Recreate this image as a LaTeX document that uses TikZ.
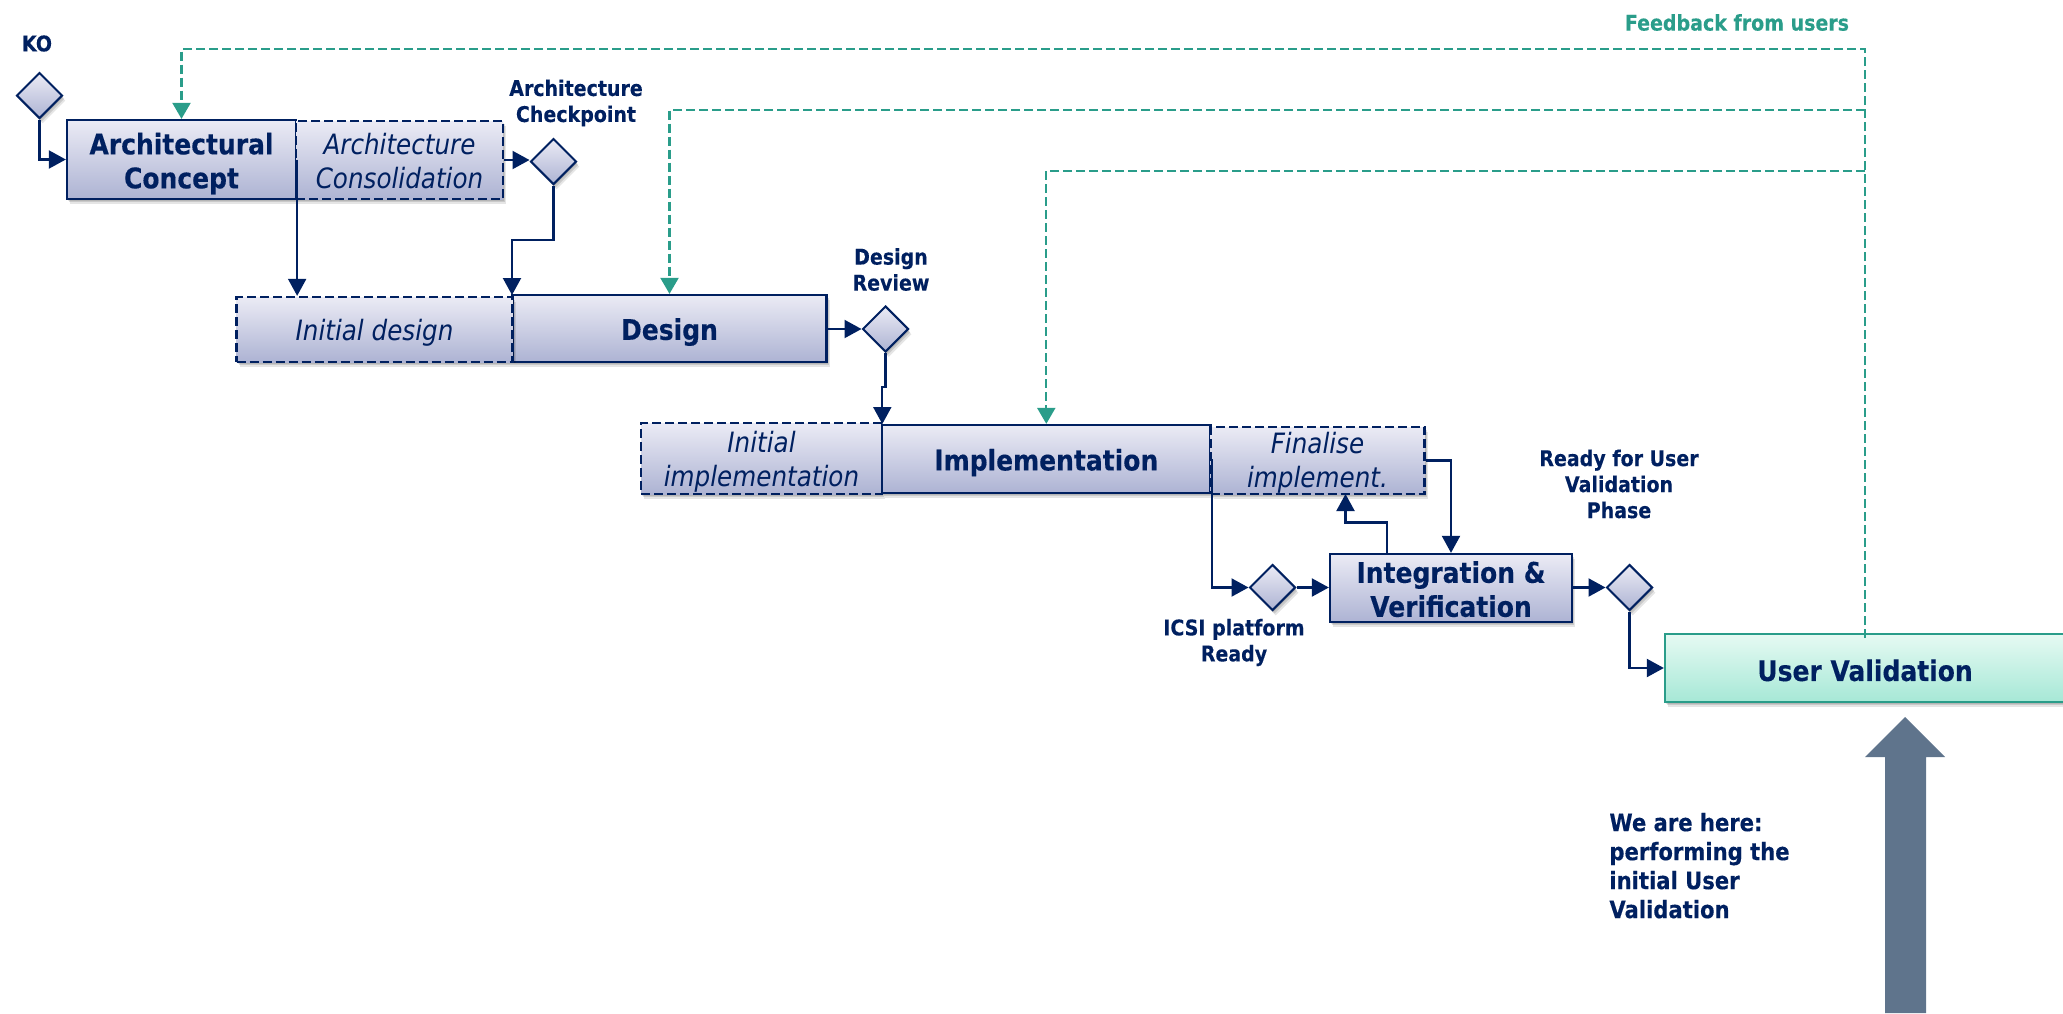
\documentclass[tikz,border=0pt]{standalone}
\usepackage{fontspec}
\setmainfont{DejaVu Sans}[FakeStretch=0.88,BoldFeatures={FakeBold=0.25}]
\usetikzlibrary{arrows.meta,shapes.geometric,shadows}
\definecolor{navy}{HTML}{002060}
\definecolor{teal}{HTML}{2A9D8A}
\definecolor{boxtop}{HTML}{EBEBF5}
\definecolor{boxbot}{HTML}{ADB3D3}
\definecolor{uvtop}{HTML}{E6FAF3}
\definecolor{uvbot}{HTML}{A6E8D6}
\definecolor{slate}{HTML}{5F748C}
\tikzset{
  softshadow/.style={
    general shadow={shadow xshift=.6pt,shadow yshift=-.9pt,fill=black,opacity=.10},
    general shadow={shadow xshift=1.1pt,shadow yshift=-1.7pt,fill=black,opacity=.12},
    general shadow={shadow xshift=1.6pt,shadow yshift=-2.6pt,fill=black,opacity=.10}},
  solidbox/.style={rectangle,draw=navy,line width=1.15pt,top color=boxtop,bottom color=boxbot,softshadow,inner sep=0pt},
  dashbox/.style={rectangle,draw=navy,line width=1.15pt,dash pattern=on 4.5pt off 2pt,top color=boxtop,bottom color=boxbot,softshadow,inner sep=0pt},
  uvbox/.style={rectangle,draw=teal,line width=1.15pt,top color=uvtop,bottom color=uvbot,softshadow,inner sep=0pt},
  boldtext/.style={text=navy,align=center,inner sep=0pt,font=\fontsize{14.2}{17}\selectfont\bfseries},
  italtext/.style={text=navy,align=center,inner sep=0pt,font=\fontsize{14}{17}\selectfont\itshape},
  gate/.style={diamond,aspect=1,draw=navy,line width=1pt,top color=boxtop,bottom color=boxbot,
    softshadow,minimum width=23pt,minimum height=23pt,inner sep=0pt},
  lab/.style={text=navy,align=center,inner sep=0pt,font=\fontsize{10.8}{13}\selectfont\bfseries},
  flow/.style={draw=navy,line width=1.05pt,-{Triangle[length=8.5pt,width=9pt]}},
  back/.style={draw=teal,line width=1.1pt,dash pattern=on 4.5pt off 2pt,-{Triangle[length=8pt,width=9pt]}},
}
\begin{document}
\begin{tikzpicture}[x=0.5pt,y=-0.5pt]
\useasboundingbox (0,0) rectangle (2063,1013);
% boxes
\node[solidbox,minimum width=114.5pt,minimum height=39.5pt] (ac) at (181.5,159.5) {};
\node[dashbox,minimum width=103.5pt,minimum height=39pt] (as) at (399.5,160) {};
\node[solidbox,minimum width=157pt,minimum height=33.5pt] (de) at (669.5,328.5) {};
\node[dashbox,minimum width=138pt,minimum height=32.5pt] (id) at (374.5,329.5) {};
\node[dashbox,minimum width=120.5pt,minimum height=35.5pt] (ii) at (761.5,458.5) {};
\node[solidbox,minimum width=164.3pt,minimum height=34pt] (im) at (1046.3,459) {};
\node[dashbox,minimum width=107pt,minimum height=33.5pt] (fi) at (1317.5,460.5) {};
\node[solidbox,minimum width=121pt,minimum height=34pt] (iv) at (1451,588) {};
\node[uvbox,minimum width=200pt,minimum height=34pt] (uv) at (1865,668) {};
% box texts
\node[boldtext] (tac) at ([yshift=-2pt]ac.center) {Architectural\\Concept};
\node[italtext] (tas) at ([yshift=-.6pt]as.center) {Architecture\\Consolidation};
\node[boldtext] (tde) at ([yshift=-1.8pt]de.center) {Design};
\node[italtext] (tid) at ([yshift=-1.8pt]id.center) {Initial design};
\node[italtext] (tii) at ([yshift=-1.6pt]ii.center) {Initial\\implementation};
\node[boldtext] (tim) at ([yshift=-1.8pt]im.center) {Implementation};
\node[italtext] (tfi) at ([yshift=-1.2pt]fi.center) {Finalise\\implement.};
\node[boldtext] (tiv) at ([yshift=-.6pt]iv.center) {Integration \&\\Verification};
\node[boldtext] (tuv) at ([yshift=-1.2pt]uv.center) {User Validation};
% gates
\node[gate] (ko) at (39.5,95.5) {};
\node[gate] (ck) at (553.5,161.5) {};
\node[gate] (dr) at (885.5,329) {};
\node[gate] (ic) at (1272.5,587.5) {};
\node[gate] (rd) at (1629.5,587.5) {};
% labels
\node[lab] (lko) at (37,43.5) {KO};
\node[lab] (lck) at (576,103) {Architecture\\Checkpoint};
\node[lab] (ldr) at (891,269.5) {Design\\Review};
\node[lab] (lrd) at (1619,484) {Ready for User\\Validation\\Phase};
\node[lab] (lic) at (1234,642.5) {ICSI platform\\Ready};
\node[lab,text=teal] (lfb) at (1737,22.5) {Feedback from users};
\node[text=navy,align=left,anchor=north west,inner sep=0pt,font=\fontsize{12}{14.5}\selectfont\bfseries] (we) at (1609,812.5) {We are here:\\performing the\\initial User\\Validation};
% flow connectors
\coordinate (a1) at (ko.south |- ac.west);
\draw[flow] (ko.south) -- (a1) -- (ac.west);
\draw[flow] (as.east) -- (as.east -| ck.west);
\coordinate (a2) at (ck.south |- 0,240);
\coordinate (a3) at (512,240);
\coordinate (a4) at (512,295);
\draw[flow] (ck.south) -- (a2) -- (a3) -- (a4);
\coordinate (a5) at (ac.east |- id.north);
\draw[flow] (ac.east) -- (a5);
\draw[flow] (de.east |- dr.west) -- (dr.west);
\coordinate (a6) at (885.5,387);
\coordinate (a7) at (882.3,387);
\coordinate (a8) at (882.3,424);
\draw[flow] (dr.south) -- (a6) -- (a7) -- (a8);
\coordinate (a9) at (im.east |- ic.west);
\draw[flow] (im.east) -- (a9) -- (ic.west);
\draw[flow] (ic.east) -- (iv.west |- ic.east);
\coordinate (b1) at (1387,554);
\coordinate (b2) at (1387,522.5);
\coordinate (b3) at (1345.5,522.5);
\coordinate (b4) at (1345.5,494);
\draw[flow] (b1) -- (b2) -- (b3) -- (b4);
\coordinate (b5) at (iv.north |- fi.east);
\draw[flow] (fi.east) -- (b5) -- (iv.north);
\draw[flow] (iv.east |- rd.west) -- (rd.west);
\coordinate (b6) at (rd.south |- uv.west);
\draw[flow] (rd.south) -- (b6) -- (uv.west);
% feedback
\coordinate (f0) at (1865,638);
\coordinate (f1) at (1865,49);
\coordinate (f2) at (ac.north |- f1);
\draw[back] (f0) -- (f1) -- (f2) -- (ac.north);
\coordinate (f3) at (1865,110);
\coordinate (f4) at (de.north |- f3);
\draw[back] (f3) -- (f4) -- (de.north);
\coordinate (f5) at (1865,171);
\coordinate (f6) at (im.north |- f5);
\draw[back] (f5) -- (f6) -- (im.north);
% big arrow
\fill[slate] (1905,717) -- (1945,757) -- (1926,757) -- (1926,1013) -- (1885,1013) -- (1885,757) -- (1865,757) -- cycle;
\end{tikzpicture}
\end{document}
